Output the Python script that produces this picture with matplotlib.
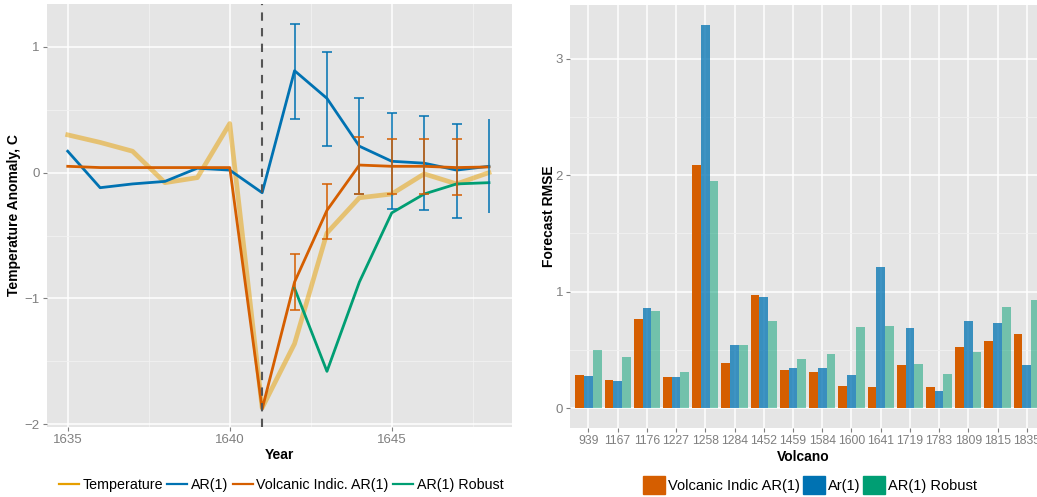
import numpy as np
import matplotlib
matplotlib.use("Agg")
import matplotlib.pyplot as plt
from matplotlib.lines import Line2D
from matplotlib.patches import Patch

plt.rcParams['font.family'] = ['Liberation Sans', 'DejaVu Sans']

# ---- left panel data ----
years = [1635, 1636, 1637, 1638, 1639, 1640, 1641, 1642, 1643, 1644, 1645, 1646, 1647, 1648]
temperature = [0.30, 0.24, 0.17, -0.08, -0.04, 0.39, -1.87, -1.36, -0.48, -0.20, -0.17, -0.01, -0.09, 0.00]
ar1 = [0.17, -0.12, -0.09, -0.07, 0.035, 0.02, -0.16, 0.81, 0.59, 0.21, 0.09, 0.075, 0.02, 0.05]
volc_ar1 = [0.05, 0.04, 0.04, 0.04, 0.04, 0.04, -1.88, -0.87, -0.30, 0.06, 0.05, 0.05, 0.04, 0.045]
robust_years = [1642, 1643, 1644, 1645, 1646, 1647, 1648]
robust = [-0.92, -1.58, -0.87, -0.32, -0.17, -0.09, -0.08]

ar1_err_years = [1642, 1643, 1644, 1645, 1646, 1647, 1648]
ar1_hi = [1.18, 0.96, 0.59, 0.47, 0.45, 0.39, 0.43]
ar1_lo = [0.43, 0.21, -0.17, -0.29, -0.30, -0.36, -0.32]
volc_err_years = [1642, 1643, 1644, 1645, 1646, 1647]
volc_hi = [-0.65, -0.09, 0.28, 0.27, 0.27, 0.27]
volc_lo = [-1.09, -0.53, -0.17, -0.17, -0.17, -0.18]
eruption_year = 1641

# ---- right panel data ----
volcanoes = ['939', '1167', '1176', '1227', '1258', '1284', '1452', '1459',
             '1584', '1600', '1641', '1719', '1783', '1809', '1815', '1835']
rmse_volc = [0.286, 0.243, 0.766, 0.27, 2.085, 0.39, 0.97, 0.33,
             0.31, 0.19, 0.18, 0.37, 0.18, 0.526, 0.577, 0.637]
rmse_ar1 = [0.277, 0.234, 0.86, 0.27, 3.29, 0.54, 0.954, 0.345,
            0.345, 0.286, 1.21, 0.69, 0.15, 0.75, 0.73, 0.37]
rmse_robust = [0.50, 0.44, 0.834, 0.31, 1.95, 0.54, 0.75, 0.42,
               0.466, 0.70, 0.706, 0.38, 0.29, 0.48, 0.87, 0.93]

c_temp = '#E69F00'
c_ar1 = '#0072B2'
c_volc = '#D55E00'
c_rob = '#009E73'
bg = '#E5E5E5'
tick_col = '#7F7F7F'


def style_axes(ax):
    ax.set_facecolor(bg)
    for s in ax.spines.values():
        s.set_visible(False)
    ax.grid(True, which='major', color='white', linewidth=1.1)
    ax.grid(True, which='minor', color='#F2F2F2', linewidth=0.6)
    ax.set_axisbelow(True)
    ax.tick_params(which='major', colors=tick_col, labelcolor=tick_col,
                   labelsize=9.5, length=3, width=0.8, pad=2)
    ax.tick_params(which='minor', length=0)


fig = plt.figure(figsize=(10.37, 4.97), dpi=100)
ax1 = fig.add_axes([0.045, 0.1414, 0.4484, 0.8505])
ax2 = fig.add_axes([0.5497, 0.1388, 0.4503, 0.8511])

# ---- left ----
style_axes(ax1)
ax1.plot(years, temperature, color=c_temp, alpha=0.5, lw=3.4, solid_joinstyle='round')
ax1.plot(years, ar1, color=c_ar1, lw=2.0)
ax1.plot(years, volc_ar1, color=c_volc, lw=2.0)
ax1.plot(robust_years, robust, color=c_rob, lw=2.0)
ax1.axvline(eruption_year, color='#555555', lw=1.5, ls=(0, (4, 3.5)))

ar1_mid = [(h + l) / 2 for h, l in zip(ar1_hi, ar1_lo)]
ar1_half = [(h - l) / 2 for h, l in zip(ar1_hi, ar1_lo)]
ax1.errorbar(ar1_err_years[:-1], ar1_mid[:-1], yerr=ar1_half[:-1], fmt='none',
             ecolor=c_ar1, elinewidth=1.1, capsize=3.5, capthick=1.1)
ax1.errorbar(ar1_err_years[-1:], ar1_mid[-1:], yerr=ar1_half[-1:], fmt='none',
             ecolor=c_ar1, elinewidth=1.1, capsize=0)
volc_mid = [(h + l) / 2 for h, l in zip(volc_hi, volc_lo)]
volc_half = [(h - l) / 2 for h, l in zip(volc_hi, volc_lo)]
ax1.errorbar(volc_err_years, volc_mid, yerr=volc_half, fmt='none',
             ecolor=c_volc, elinewidth=1.1, capsize=3.5, capthick=1.1)

ax1.set_xlim(1634.35, 1648.7)
ax1.set_ylim(-2.02, 1.34)
ax1.set_xticks([1635, 1640, 1645])
ax1.set_xticks([1637.5, 1642.5, 1647.5], minor=True)
ax1.set_yticks([-2, -1, 0, 1])
ax1.set_yticklabels(['\u22122', '\u22121', '0', '1'])
ax1.set_yticks([-1.5, -0.5, 0.5], minor=True)
ax1.set_xlabel('Year', fontsize=10, fontweight='bold', labelpad=2)
ax1.set_ylabel('Temperature Anomaly, C', fontsize=10, fontweight='bold')
ax1.yaxis.set_label_coords(-0.056, 0.5)

handles1 = [Line2D([], [], color=c_temp, lw=1.6),
            Line2D([], [], color=c_ar1, lw=1.6),
            Line2D([], [], color=c_volc, lw=1.6),
            Line2D([], [], color=c_rob, lw=1.6)]
fig.legend(handles1, ['Temperature', 'AR(1)', 'Volcanic Indic. AR(1)', 'AR(1) Robust'],
           loc='center', bbox_to_anchor=(281 / 1037, 1 - 485 / 497), ncol=4,
           frameon=False, fontsize=10.3, handlelength=1.4, handletextpad=0.25,
           columnspacing=0.3, borderpad=0)

# ---- right ----
style_axes(ax2)
x = np.arange(1, len(volcanoes) + 1)
w = 0.3
ax2.bar(x - w, rmse_volc, width=w, color=c_volc, alpha=1.0)
ax2.bar(x, rmse_ar1, width=w, color=c_ar1, alpha=0.75)
ax2.bar(x + w, rmse_robust, width=w, color=c_rob, alpha=0.5)
ax2.set_xlim(0.37, 16.35)
ax2.set_ylim(-0.17, 3.46)
ax2.set_xticks(x)
ax2.set_xticklabels(volcanoes)
ax2.tick_params(axis='x', labelsize=8.8)
ax2.set_yticks([0, 1, 2, 3])
ax2.set_yticks([0.5, 1.5, 2.5], minor=True)
ax2.set_xlabel('Volcano', fontsize=10, fontweight='bold', labelpad=2)
ax2.set_ylabel('Forecast RMSE', fontsize=10, fontweight='bold')
ax2.yaxis.set_label_coords(-0.031, 0.5)

handles2 = [Patch(color=c_volc), Patch(color=c_ar1), Patch(color=c_rob)]
fig.legend(handles2, ['Volcanic Indic AR(1)', 'Ar(1)', 'AR(1) Robust'],
           loc='center', bbox_to_anchor=(810 / 1037, 1 - 485 / 497), ncol=3,
           frameon=False, fontsize=10.5, handlelength=1.5, handleheight=1.5,
           handletextpad=0.2, columnspacing=0.2, borderpad=0)

fig.savefig('out.png', dpi=100)
